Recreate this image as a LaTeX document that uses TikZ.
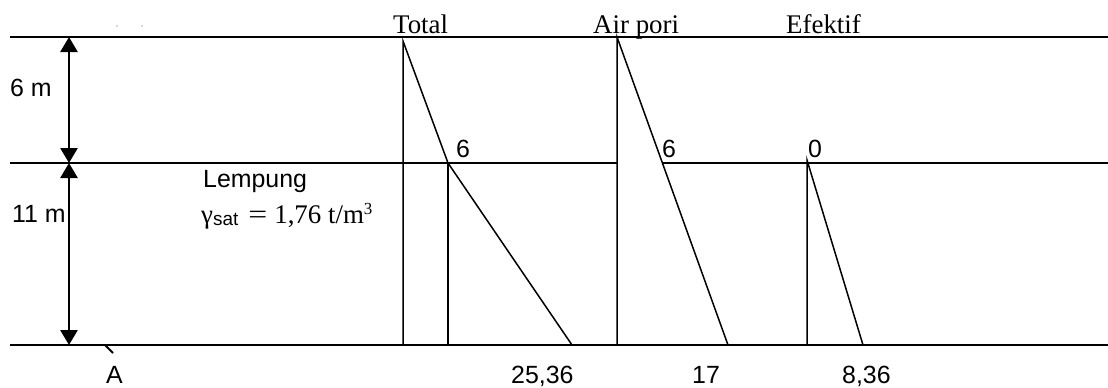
\documentclass[tikz,border=0pt]{standalone}
\usepackage{fontspec}
\setmainfont{Liberation Serif}
\newfontfamily\sansf{Liberation Sans}
\usetikzlibrary{arrows.meta}
\tikzset{
  hline/.style={line width=2.4bp},
  thin line/.style={line width=1.5bp},
  dimarrow/.style={line width=2.8bp,{Triangle[width=17bp,length=15bp]}-{Triangle[width=17bp,length=15bp]}},
  sanslbl/.style={inner sep=0pt,anchor=base west,font=\sansf\fontsize{25}{30}\selectfont},
  seriflbl/.style={inner sep=0pt,anchor=base west,font=\fontsize{27}{32}\selectfont},
}
\begin{document}
\begin{tikzpicture}[x=1bp,y=-1bp]
\useasboundingbox (0,0) rectangle (1108,387);
% layer lines
\coordinate (TL) at (10,37);   \coordinate (TR) at (1108,37);
\coordinate (ML) at (10,163);  \coordinate (MA) at (617,163);
\coordinate (MB) at (663,163); \coordinate (MR) at (1108,163);
\coordinate (BL) at (10,345);  \coordinate (BR) at (1108,345);
\draw[hline] (TL) -- (TR);
\draw[hline] (ML) -- (MA);
\draw[hline] (MB) -- (MR);
\draw[hline] (BL) -- (BR);
% dimension arrows
\coordinate (D1) at (69,37); \coordinate (D2) at (69,163); \coordinate (D3) at (69,345);
\draw[dimarrow] (D1) -- (D2);
\draw[dimarrow] (D2) -- (D3);
% Total
\coordinate (T0) at (403,41); \coordinate (T0b) at (403,345);
\coordinate (T1) at (448,163); \coordinate (T1b) at (448,345);
\coordinate (T2) at (572,345);
\draw[thin line] (T0b) -- (T0) -- (T1) -- (T2);
\draw[thin line] (T1) -- (T1b);
% Air pori
\coordinate (P0) at (617,37); \coordinate (P0b) at (617,345);
\coordinate (P2) at (728,345);
\draw[thin line] (P0b) -- (P0) -- (P2);
% Efektif
\coordinate (E0) at (807,160); \coordinate (E0b) at (807,345);
\coordinate (E2) at (863,345);
\draw[thin line] (E0b) -- (E0) -- (E2);
% A tick
\coordinate (A0) at (105,345); \coordinate (A1) at (113,353);
\draw[line width=2bp] (A0) -- (A1);
% dots
\fill[gray!60] (117,26) circle (0.9bp);
\fill[gray!60] (142,26) circle (0.9bp);
% labels
\node[sanslbl] (l6m) at (10,96) {6 m};
\node[sanslbl] (l11m) at (12,222) {11 m};
\node[sanslbl] (lemp) at (203,187) {Lempung};
\node[inner sep=0pt,anchor=base west] (gam) at (201,223)
  {\fontsize{27}{32}\selectfont γ\raisebox{-2bp}{\sansf\fontsize{19}{22}\selectfont sat}\hspace{10bp}\scalebox{1.25}[1]{=}\hspace{7bp}1,76 t/m\raisebox{9bp}{\fontsize{17}{20}\selectfont 3}};
\node[seriflbl] (ltot) at (393,33) {Total};
\node[seriflbl] (lair) at (593,33) {Air pori};
\node[seriflbl] (lef) at (786,33) {Efektif};
\node[sanslbl] (n6a) at (456,157) {6};
\node[sanslbl] (n6b) at (662,157) {6};
\node[sanslbl] (n0) at (808,157) {0};
\node[sanslbl] (n25) at (511,383) {25,36};
\node[sanslbl] (n17) at (692,383) {17};
\node[sanslbl] (n8) at (842,383) {8,36};
\node[sanslbl] (lA) at (106,383) {A};
\end{tikzpicture}
\end{document}
